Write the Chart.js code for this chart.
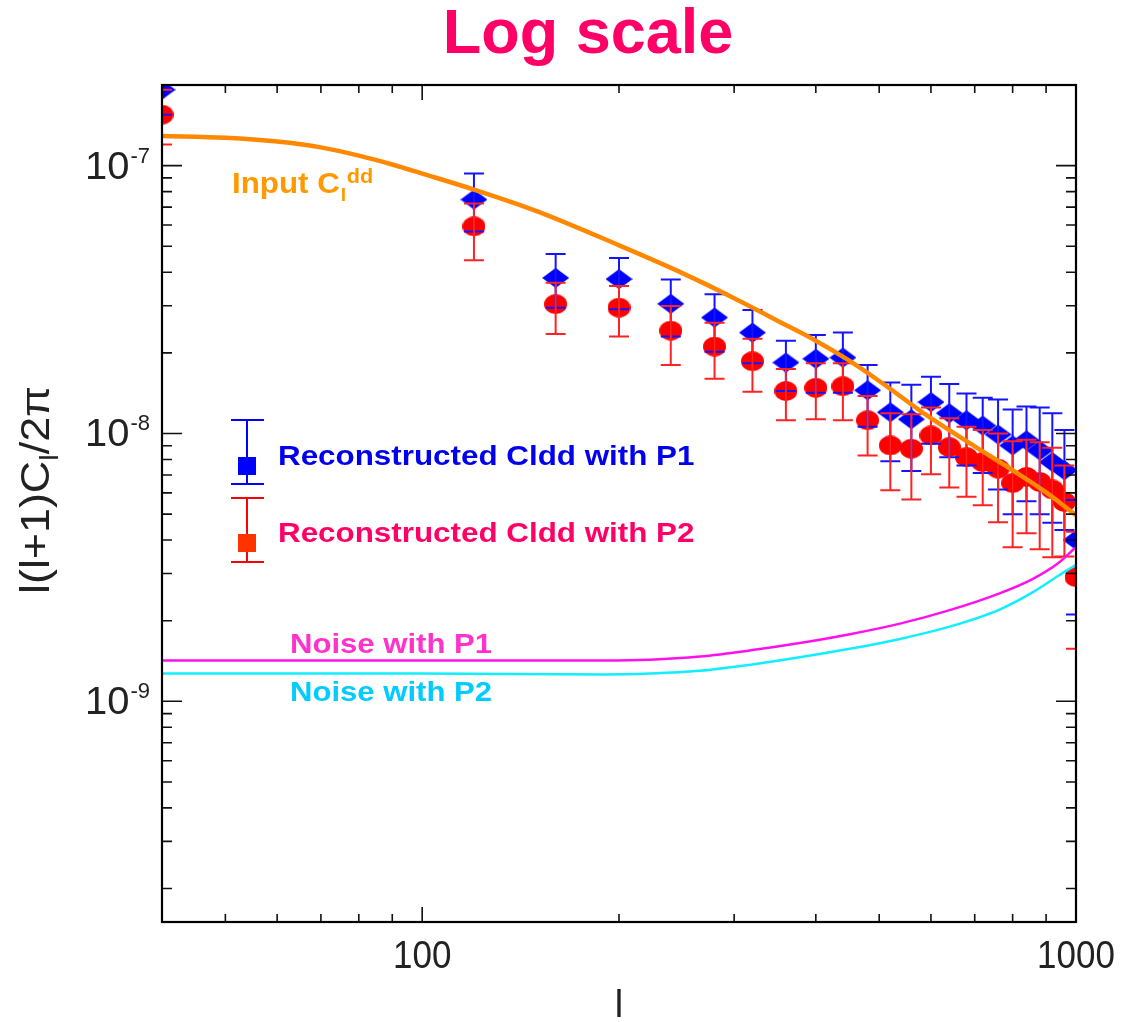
<!DOCTYPE html>
<html>
<head>
<meta charset="utf-8">
<title>Log scale</title>
<script src="https://cdn.jsdelivr.net/npm/chart.js@4.4.0/dist/chart.umd.min.js"></script>
<style>
  html, body { margin: 0; padding: 0; background: #fff; }
  #wrap { width: 1137px; height: 1022px; }
</style>
</head>
<body>
<div id="wrap"><canvas id="clChart" width="1137" height="1022"></canvas></div>
<script>
// Input lensing spectrum (orange curve)
const inputL = [40, 50, 60, 70, 80, 90, 100, 120, 150, 200, 250, 300, 350, 400, 450, 500, 600, 700, 800, 900, 1000];
const inputCl = [1.29e-7, 1.27e-7, 1.23e-7, 1.17e-7, 1.09e-7, 1.01e-7, 9.34e-8, 8.14e-8, 6.75e-8, 5.04e-8, 3.97e-8, 3.20e-8,
  2.63e-8, 2.22e-8, 1.87e-8, 1.57e-8, 1.14e-8, 8.95e-9, 7.29e-9, 6.03e-9, 4.95e-9];

// Noise curves
const noiseL = [40, 100, 190, 223, 266, 318, 378, 451, 538, 641, 764, 858, 941, 1000];
const noiseP1 = [1.42e-9, 1.42e-9, 1.42e-9, 1.43e-9, 1.47e-9, 1.55e-9, 1.65e-9, 1.78e-9, 1.95e-9, 2.19e-9, 2.53e-9, 2.86e-9,
  3.29e-9, 3.77e-9];
const noiseP2 = [1.27e-9, 1.27e-9, 1.26e-9, 1.27e-9, 1.30e-9, 1.37e-9, 1.46e-9, 1.57e-9, 1.71e-9, 1.90e-9, 2.20e-9, 2.55e-9,
  2.95e-9, 3.23e-9];

// Reconstructed band powers with error bars
const recL = [40, 120, 160, 200, 240, 280, 320, 360, 400, 440, 480, 520, 560, 600, 640, 680, 720, 760, 800, 840, 880, 920, 960, 1000];
const recP1 = [1.92e-7, 7.47e-8, 3.81e-8, 3.77e-8, 3.05e-8, 2.71e-8, 2.38e-8, 1.84e-8, 1.90e-8, 1.92e-8, 1.45e-8, 1.20e-8,
  1.13e-8, 1.31e-8, 1.19e-8, 1.12e-8, 1.07e-8, 9.91e-9, 9.02e-9, 9.42e-9, 8.64e-9, 7.82e-9, 7.29e-9, 4.00e-9];
const recP1Hi = [2.4e-7, 9.34e-8, 4.68e-8, 4.52e-8, 3.76e-8, 3.31e-8, 2.89e-8, 2.22e-8, 2.33e-8, 2.38e-8, 1.80e-8, 1.55e-8,
  1.52e-8, 1.63e-8, 1.53e-8, 1.41e-8, 1.36e-8, 1.34e-8, 1.23e-8, 1.26e-8, 1.25e-8, 1.19e-8, 1.03e-8, 5.64e-9];
const recP1Lo = [1.55e-7, 5.68e-8, 2.95e-8, 2.91e-8, 2.30e-8, 2.02e-8, 1.83e-8, 1.44e-8, 1.42e-8, 1.42e-8, 1.06e-8, 7.87e-9,
  7.24e-9, 9.15e-9, 8.16e-9, 7.60e-9, 7.12e-9, 6.18e-9, 4.99e-9, 5.59e-9, 4.99e-9, 4.64e-9, 4.36e-9, 2.11e-9];
const recP2 = [1.55e-7, 5.93e-8, 3.04e-8, 2.95e-8, 2.42e-8, 2.11e-8, 1.86e-8, 1.44e-8, 1.48e-8, 1.50e-8, 1.12e-8, 9.02e-9,
  8.77e-9, 9.83e-9, 8.89e-9, 8.16e-9, 7.82e-9, 7.39e-9, 6.53e-9, 6.88e-9, 6.59e-9, 6.18e-9, 5.55e-9, 2.91e-9];
const recP2Hi = [1.92e-7, 7.22e-8, 3.65e-8, 3.55e-8, 2.99e-8, 2.59e-8, 2.26e-8, 1.74e-8, 1.83e-8, 1.83e-8, 1.38e-8, 1.19e-8,
  1.18e-8, 1.25e-8, 1.14e-8, 1.06e-8, 1.03e-8, 1.00e-8, 9.36e-9, 9.47e-9, 9.28e-9, 8.85e-9, 7.60e-9, 4.30e-9];
const recP2Lo = [1.20e-7, 4.43e-8, 2.35e-8, 2.30e-8, 1.80e-8, 1.60e-8, 1.43e-8, 1.12e-8, 1.13e-8, 1.12e-8, 8.28e-9, 6.14e-9,
  5.67e-9, 7.04e-9, 6.28e-9, 5.80e-9, 5.40e-9, 4.66e-9, 3.76e-9, 4.24e-9, 3.70e-9, 3.45e-9, 3.47e-9, 1.57e-9];

// Axes
const xRange = [40, 1000];
const yRange = [1.5e-10, 2e-7];
const xMajorTicks = [100, 1000];
const xMinorTicks = [50, 60, 70, 80, 90, 200, 300, 400, 500, 600, 700, 800, 900];
const yMajorTicks = [1e-7, 1e-8, 1e-9];
const yMajorLabels = ['-7', '-8', '-9'];
const yMinorTicks = [];
[1e-10, 1e-9, 1e-8, 1e-7].forEach(d => {
  for (let k = 2; k <= 9; k++) yMinorTicks.push(k * d);
});

const FONT = 'Arial, "Liberation Sans", sans-serif';

function toPoints(xs, ys) {
  return xs.map((v, i) => ({ x: v, y: ys[i] }));
}

// small canvases used as point styles (markers in the original are slightly wide)
function makeMarker(kind, color, w, h) {
  const c = document.createElement('canvas');
  c.width = w;
  c.height = h;
  const g = c.getContext('2d');
  g.fillStyle = color;
  g.beginPath();
  if (kind === 'diamond') {
    g.moveTo(w / 2, 0);
    g.lineTo(w, h / 2);
    g.lineTo(w / 2, h);
    g.lineTo(0, h / 2);
    g.closePath();
  } else {
    g.ellipse(w / 2, h / 2, w / 2, h / 2, 0, 0, Math.PI * 2);
  }
  g.fill();
  return c;
}

// text helper with optional horizontal stretch
function drawStr(ctx, text, x, y, font, color, sx, align) {
  ctx.save();
  ctx.font = font;
  ctx.fillStyle = color;
  ctx.textBaseline = 'alphabetic';
  const w = ctx.measureText(text).width * sx;
  let left = x;
  if (align === 'center') left = x - w / 2;
  if (align === 'right') left = x - w;
  ctx.translate(left, y);
  ctx.scale(sx, 1);
  ctx.fillText(text, 0, 0);
  ctx.restore();
  return w;
}

function drawErrorBars(ctx, xs, ys, xl, lo, hi, color) {
  ctx.strokeStyle = color;
  ctx.lineWidth = 2;
  ctx.beginPath();
  xl.forEach((l, i) => {
    const px = xs.getPixelForValue(l);
    const pLo = ys.getPixelForValue(lo[i]);
    const pHi = ys.getPixelForValue(hi[i]);
    ctx.moveTo(px, pLo);
    ctx.lineTo(px, pHi);
    ctx.moveTo(px - 10, pLo);
    ctx.lineTo(px + 10, pLo);
    ctx.moveTo(px - 10, pHi);
    ctx.lineTo(px + 10, pHi);
  });
  ctx.stroke();
}

const errorBarPlugin = {
  id: 'errorBars',
  afterDatasetDraw(chart, args) {
    if (args.index !== 1) return; // right after the P2 markers
    const { ctx, chartArea: a, scales } = chart;
    ctx.save();
    ctx.beginPath();
    ctx.rect(a.left, a.top, a.width, a.height);
    ctx.clip();
    drawErrorBars(ctx, scales.x, scales.y, recL, recP1Lo, recP1Hi, '#1414ff');
    drawErrorBars(ctx, scales.x, scales.y, recL, recP2Lo, recP2Hi, '#ff2222');
    ctx.restore();
  }
};

const framePlugin = {
  id: 'frame',
  afterDraw(chart) {
    const { ctx, chartArea: a, scales } = chart;
    const xs = scales.x, ys = scales.y;
    ctx.save();

    // ticks pointing inwards on all four sides
    ctx.strokeStyle = '#111';
    ctx.lineWidth = 1.6;
    ctx.beginPath();
    const xTick = (v, len) => {
      const p = xs.getPixelForValue(v);
      ctx.moveTo(p, a.bottom); ctx.lineTo(p, a.bottom - len);
      ctx.moveTo(p, a.top); ctx.lineTo(p, a.top + len);
    };
    const yTick = (v, len) => {
      const p = ys.getPixelForValue(v);
      if (p < a.top || p > a.bottom) return;
      ctx.moveTo(a.left, p); ctx.lineTo(a.left + len, p);
      ctx.moveTo(a.right, p); ctx.lineTo(a.right - len, p);
    };
    xMajorTicks.forEach(v => xTick(v, 15));
    xMinorTicks.forEach(v => xTick(v, 8));
    yMajorTicks.forEach(v => yTick(v, 20));
    yMinorTicks.forEach(v => yTick(v, 10));
    ctx.stroke();

    ctx.lineWidth = 2.2;
    ctx.strokeStyle = '#000';
    ctx.strokeRect(a.left, a.top, a.width, a.height);

    // tick labels
    xMajorTicks.forEach(v => {
      drawStr(ctx, String(v), xs.getPixelForValue(v), a.bottom + 46, '38px ' + FONT, '#222', 0.92, 'center');
    });
    yMajorTicks.forEach((v, i) => {
      const p = ys.getPixelForValue(v);
      const ew = drawStr(ctx, yMajorLabels[i], 150, p - 3, '22px ' + FONT, '#222', 1.0, 'right');
      drawStr(ctx, '10', 150 - ew - 1, p + 13, '38px ' + FONT, '#222', 1.05, 'right');
    });

    // axis titles
    drawStr(ctx, 'l', (a.left + a.right) / 2, a.bottom + 95, '38px ' + FONT, '#222', 1.0, 'center');
    ctx.save();
    ctx.translate(49, 490);
    ctx.rotate(-Math.PI / 2);
    const sxT = 1.12;
    ctx.font = '40px ' + FONT;
    const w1 = ctx.measureText('l(l+1)C').width * sxT;
    const w3 = ctx.measureText('/2\u03c0').width * sxT;
    ctx.font = '26px ' + FONT;
    const w2 = ctx.measureText('l').width * sxT;
    const tx = -(w1 + w2 + w3) / 2;
    drawStr(ctx, 'l(l+1)C', tx, 0, '40px ' + FONT, '#222', sxT, 'left');
    drawStr(ctx, 'l', tx + w1, 9, '26px ' + FONT, '#222', sxT, 'left');
    drawStr(ctx, '/2\u03c0', tx + w1 + w2, 0, '40px ' + FONT, '#222', sxT, 'left');
    ctx.restore();

    // title
    drawStr(ctx, 'Log scale', 588, 53, 'bold 63px ' + FONT, '#ff0066', 1.0, 'center');

    // in-plot annotations
    const bold = s => 'bold ' + s + 'px ' + FONT;
    const w = drawStr(ctx, 'Input C', 232, 193, bold(29), '#ff9900', 1.08, 'left');
    drawStr(ctx, 'l', 232 + w + 1, 201, bold(18), '#ff9900', 1.08, 'left');
    drawStr(ctx, 'dd', 232 + w + 7, 183, bold(20), '#ff9900', 1.08, 'left');

    drawStr(ctx, 'Reconstructed Cldd with P1', 278, 465, bold(28), '#0000ee', 1.12, 'left');
    drawStr(ctx, 'Reconstructed Cldd with P2', 278, 542, bold(28), '#ff0066', 1.12, 'left');
    drawStr(ctx, 'Noise with P1', 290, 653, bold(28), '#ff33cc', 1.11, 'left');
    drawStr(ctx, 'Noise with P2', 290, 701, bold(28), '#00ccff', 1.11, 'left');

    // legend error-bar symbols
    const sym = (top, bottom, mid, lineColor, boxColor) => {
      ctx.strokeStyle = lineColor;
      ctx.lineWidth = 2;
      ctx.beginPath();
      ctx.moveTo(247, top); ctx.lineTo(247, bottom);
      ctx.moveTo(231, top); ctx.lineTo(264, top);
      ctx.moveTo(231, bottom); ctx.lineTo(264, bottom);
      ctx.stroke();
      ctx.fillStyle = boxColor;
      ctx.fillRect(238, mid - 9, 18, 18);
    };
    sym(420, 484, 466, '#0000ff', '#0000ff');
    sym(498, 562, 543, '#ff0000', '#ff3300');

    ctx.restore();
  }
};

const blueDiamond = makeMarker('diamond', '#0000ff', 27, 20);
const redDot = makeMarker('ellipse', '#ff0000', 23, 20);

const ctx = document.getElementById('clChart').getContext('2d');
new Chart(ctx, {
  type: 'line',
  data: {
    datasets: [
      {
        label: 'Reconstructed Cldd with P1',
        data: toPoints(recL, recP1),
        showLine: false,
        pointStyle: blueDiamond,
        pointRadius: 10,
        order: 4,
        clip: 0
      },
      {
        label: 'Reconstructed Cldd with P2',
        data: toPoints(recL, recP2),
        showLine: false,
        pointStyle: redDot,
        pointRadius: 10,
        order: 3,
        clip: 0
      },
      {
        label: 'Noise with P1',
        data: toPoints(noiseL, noiseP1),
        borderColor: '#ff11ee',
        borderWidth: 2.5,
        pointRadius: 0,
        cubicInterpolationMode: 'monotone',
        order: 2,
        clip: 0
      },
      {
        label: 'Noise with P2',
        data: toPoints(noiseL, noiseP2),
        borderColor: '#11eeff',
        borderWidth: 2.5,
        pointRadius: 0,
        cubicInterpolationMode: 'monotone',
        order: 1,
        clip: 0
      },
      {
        label: 'Input Cldd',
        data: toPoints(inputL, inputCl),
        borderColor: '#ff8800',
        borderWidth: 4.5,
        pointRadius: 0,
        cubicInterpolationMode: 'monotone',
        order: 0,
        clip: 0
      }
    ]
  },
  options: {
    responsive: false,
    animation: false,
    layout: { padding: { left: 162, right: 61, top: 85, bottom: 100 } },
    plugins: { legend: { display: false }, tooltip: { enabled: false } },
    scales: {
      x: { type: 'logarithmic', min: xRange[0], max: xRange[1], display: false },
      y: { type: 'logarithmic', min: yRange[0], max: yRange[1], display: false }
    }
  },
  plugins: [errorBarPlugin, framePlugin]
});
</script>
</body>
</html>
